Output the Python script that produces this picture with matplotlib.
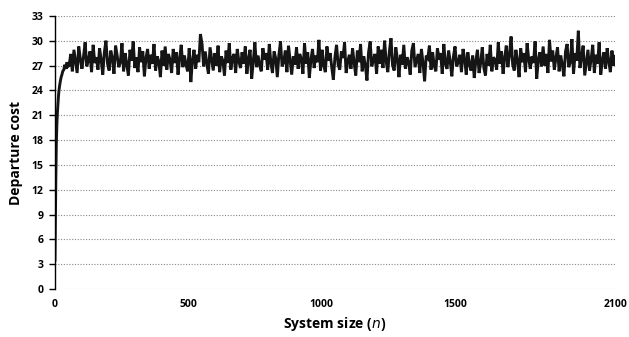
import numpy as np
import matplotlib.pyplot as plt

early_n = [1, 2, 3, 4, 5, 6, 7, 8, 10, 12, 14, 16, 18, 21, 24, 27, 30, 34, 38, 42, 46, 50]
early_cost = [3.5, 7.0, 10.5, 13.0, 15.5, 17.5, 18.8, 19.8, 21.3, 22.4, 23.3, 24.0,
              24.5, 25.1, 25.6, 25.9, 26.3, 26.5, 27.1, 26.6, 27.4, 26.9]

# steady part, one reading every 6 steps from n = 54 to 2100
steady_cost = [
    27.0, 28.4, 26.3, 28.9, 27.5, 26.1, 29.3, 27.8, 26.6, 28.1, 29.8, 26.9, 27.6, 28.7, 26.2, 29.5, 27.3, 28.0,
    26.5, 29.1, 27.7, 25.9, 28.6, 30.0, 27.2, 26.4, 28.8, 27.9, 26.0, 29.4, 28.2, 26.8, 27.4, 29.7, 26.3, 28.5,
    27.1, 25.8, 28.9, 27.6, 29.9, 26.7, 28.0, 26.2, 29.2, 27.4, 28.7, 25.7, 27.9, 29.0, 26.6, 28.3, 27.2, 29.6,
    26.4, 28.1, 27.5, 25.6, 28.8, 27.0, 29.3, 26.5, 28.4, 27.7, 26.1, 29.0, 27.3, 28.6, 25.9, 27.8, 29.5, 26.8,
    28.2, 27.1, 26.3, 29.1, 25.0, 27.6, 28.9, 26.6, 28.3, 27.4, 30.8, 29.6, 26.9, 28.7, 27.2, 26.0, 29.2, 27.8,
    26.4, 28.5, 27.0, 29.4, 26.2, 28.1, 27.6, 25.8, 28.8, 27.3, 29.7, 26.5, 27.9, 28.4, 26.1, 29.0, 27.5, 26.7,
    28.6, 27.2, 29.3, 26.0, 27.8, 28.9, 25.4, 27.5, 29.8, 26.8, 28.2, 27.0, 26.3, 29.1, 27.7, 28.5, 26.5, 29.6,
    27.3, 26.1, 28.7, 27.9, 25.6, 28.3, 29.9, 26.9, 27.4, 28.8, 26.2, 29.4, 27.6, 25.9, 28.1, 27.1, 29.2, 26.6,
    28.4, 27.8, 26.0, 29.7, 27.2, 28.6, 25.5, 27.7, 29.0, 26.7, 28.2, 27.4, 30.1, 26.4, 28.9, 27.0, 26.2, 29.3,
    27.6, 28.5, 26.8, 25.3, 28.0, 29.5, 27.1, 26.5, 28.7, 27.9, 29.8, 26.1, 27.5, 28.3, 26.6, 29.1, 27.3, 25.8,
    28.8, 27.4, 29.6, 26.3, 28.1, 27.0, 25.2, 28.6, 29.9, 26.9, 27.7, 28.4, 26.0, 29.3, 27.2, 28.9, 26.7, 30.0,
    27.5, 26.2, 28.7, 30.3, 27.0, 26.4, 29.2, 27.8, 25.6, 28.3, 27.1, 29.5, 26.6, 28.0, 27.4, 25.9, 28.8, 29.7,
    26.8, 27.6, 28.4, 26.1, 29.0, 27.3, 25.1, 28.2, 27.9, 29.4, 26.5, 28.6, 27.0, 26.3, 29.1, 27.7, 28.5, 26.0,
    29.6, 27.2, 26.6, 28.8, 27.5, 25.7, 28.1, 29.3, 26.9, 27.4, 28.3, 26.2, 29.0, 27.8, 25.9, 28.6, 27.1, 26.4,
    28.2, 25.5, 27.6, 28.9, 26.1, 27.3, 29.2, 26.7, 25.8, 28.4, 27.0, 29.5, 26.3, 28.0, 27.7, 26.5, 29.8, 27.2,
    28.7, 26.0, 27.9, 29.4, 26.8, 28.3, 30.5, 27.1, 26.4, 28.9, 27.6, 25.6, 29.1, 27.4, 28.5, 26.2, 29.7, 27.8,
    26.6, 28.1, 27.3, 29.9, 25.4, 27.7, 28.6, 26.9, 29.3, 27.0, 28.4, 26.1, 30.1, 27.5, 28.8, 26.5, 27.9, 29.2,
    26.3, 28.2, 27.1, 25.7, 28.7, 29.6, 26.8, 27.4, 30.2, 26.0, 28.5, 27.6, 31.2, 26.7, 28.0, 29.4, 25.8, 27.3,
    28.9, 26.4, 27.8, 29.5, 26.1, 28.3, 27.2, 29.8, 25.9, 27.6, 28.6, 26.6, 29.1, 27.5, 26.2, 28.8, 27.0, 28.1,
]
steady_n = np.arange(54, 2101, 6)

x_ticks = [0, 500, 1000, 1500, 2100]
y_ticks = list(range(0, 34, 3))

plt.rcParams['font.family'] = ['Open Sans', 'DejaVu Sans']

fig = plt.figure(figsize=(6.29, 3.37), dpi=100)
ax = fig.add_axes([0.087, 0.142, 0.891, 0.811])

n = list(early_n) + list(steady_n)
cost = early_cost + steady_cost
ax.plot(n, cost, color='#151515', lw=2.1, solid_joinstyle='miter')

ax.set_xlim(0, 2100)
ax.set_ylim(0, 33)
ax.set_xticks(x_ticks)
ax.set_yticks(y_ticks)
ax.tick_params(axis='x', length=0, pad=7, labelsize=7.5)
ax.tick_params(axis='y', length=4, width=1, pad=4, labelsize=7.5)
for lab in ax.get_xticklabels() + ax.get_yticklabels():
    lab.set_fontweight('bold')

ax.yaxis.grid(True, color='#888888', linestyle=(0, (1, 1.5)), linewidth=0.8)
ax.set_axisbelow(True)
for side in ['top', 'right', 'bottom']:
    ax.spines[side].set_visible(False)
ax.spines['left'].set_linewidth(1.0)

ax.set_ylabel('Departure cost', fontsize=10, fontweight='bold', labelpad=6)
ax.set_xlabel('System size ($\\mathbf{\\it{n}}$)', fontsize=10, fontweight='bold', labelpad=4)

fig.savefig('out.png', dpi=100)
